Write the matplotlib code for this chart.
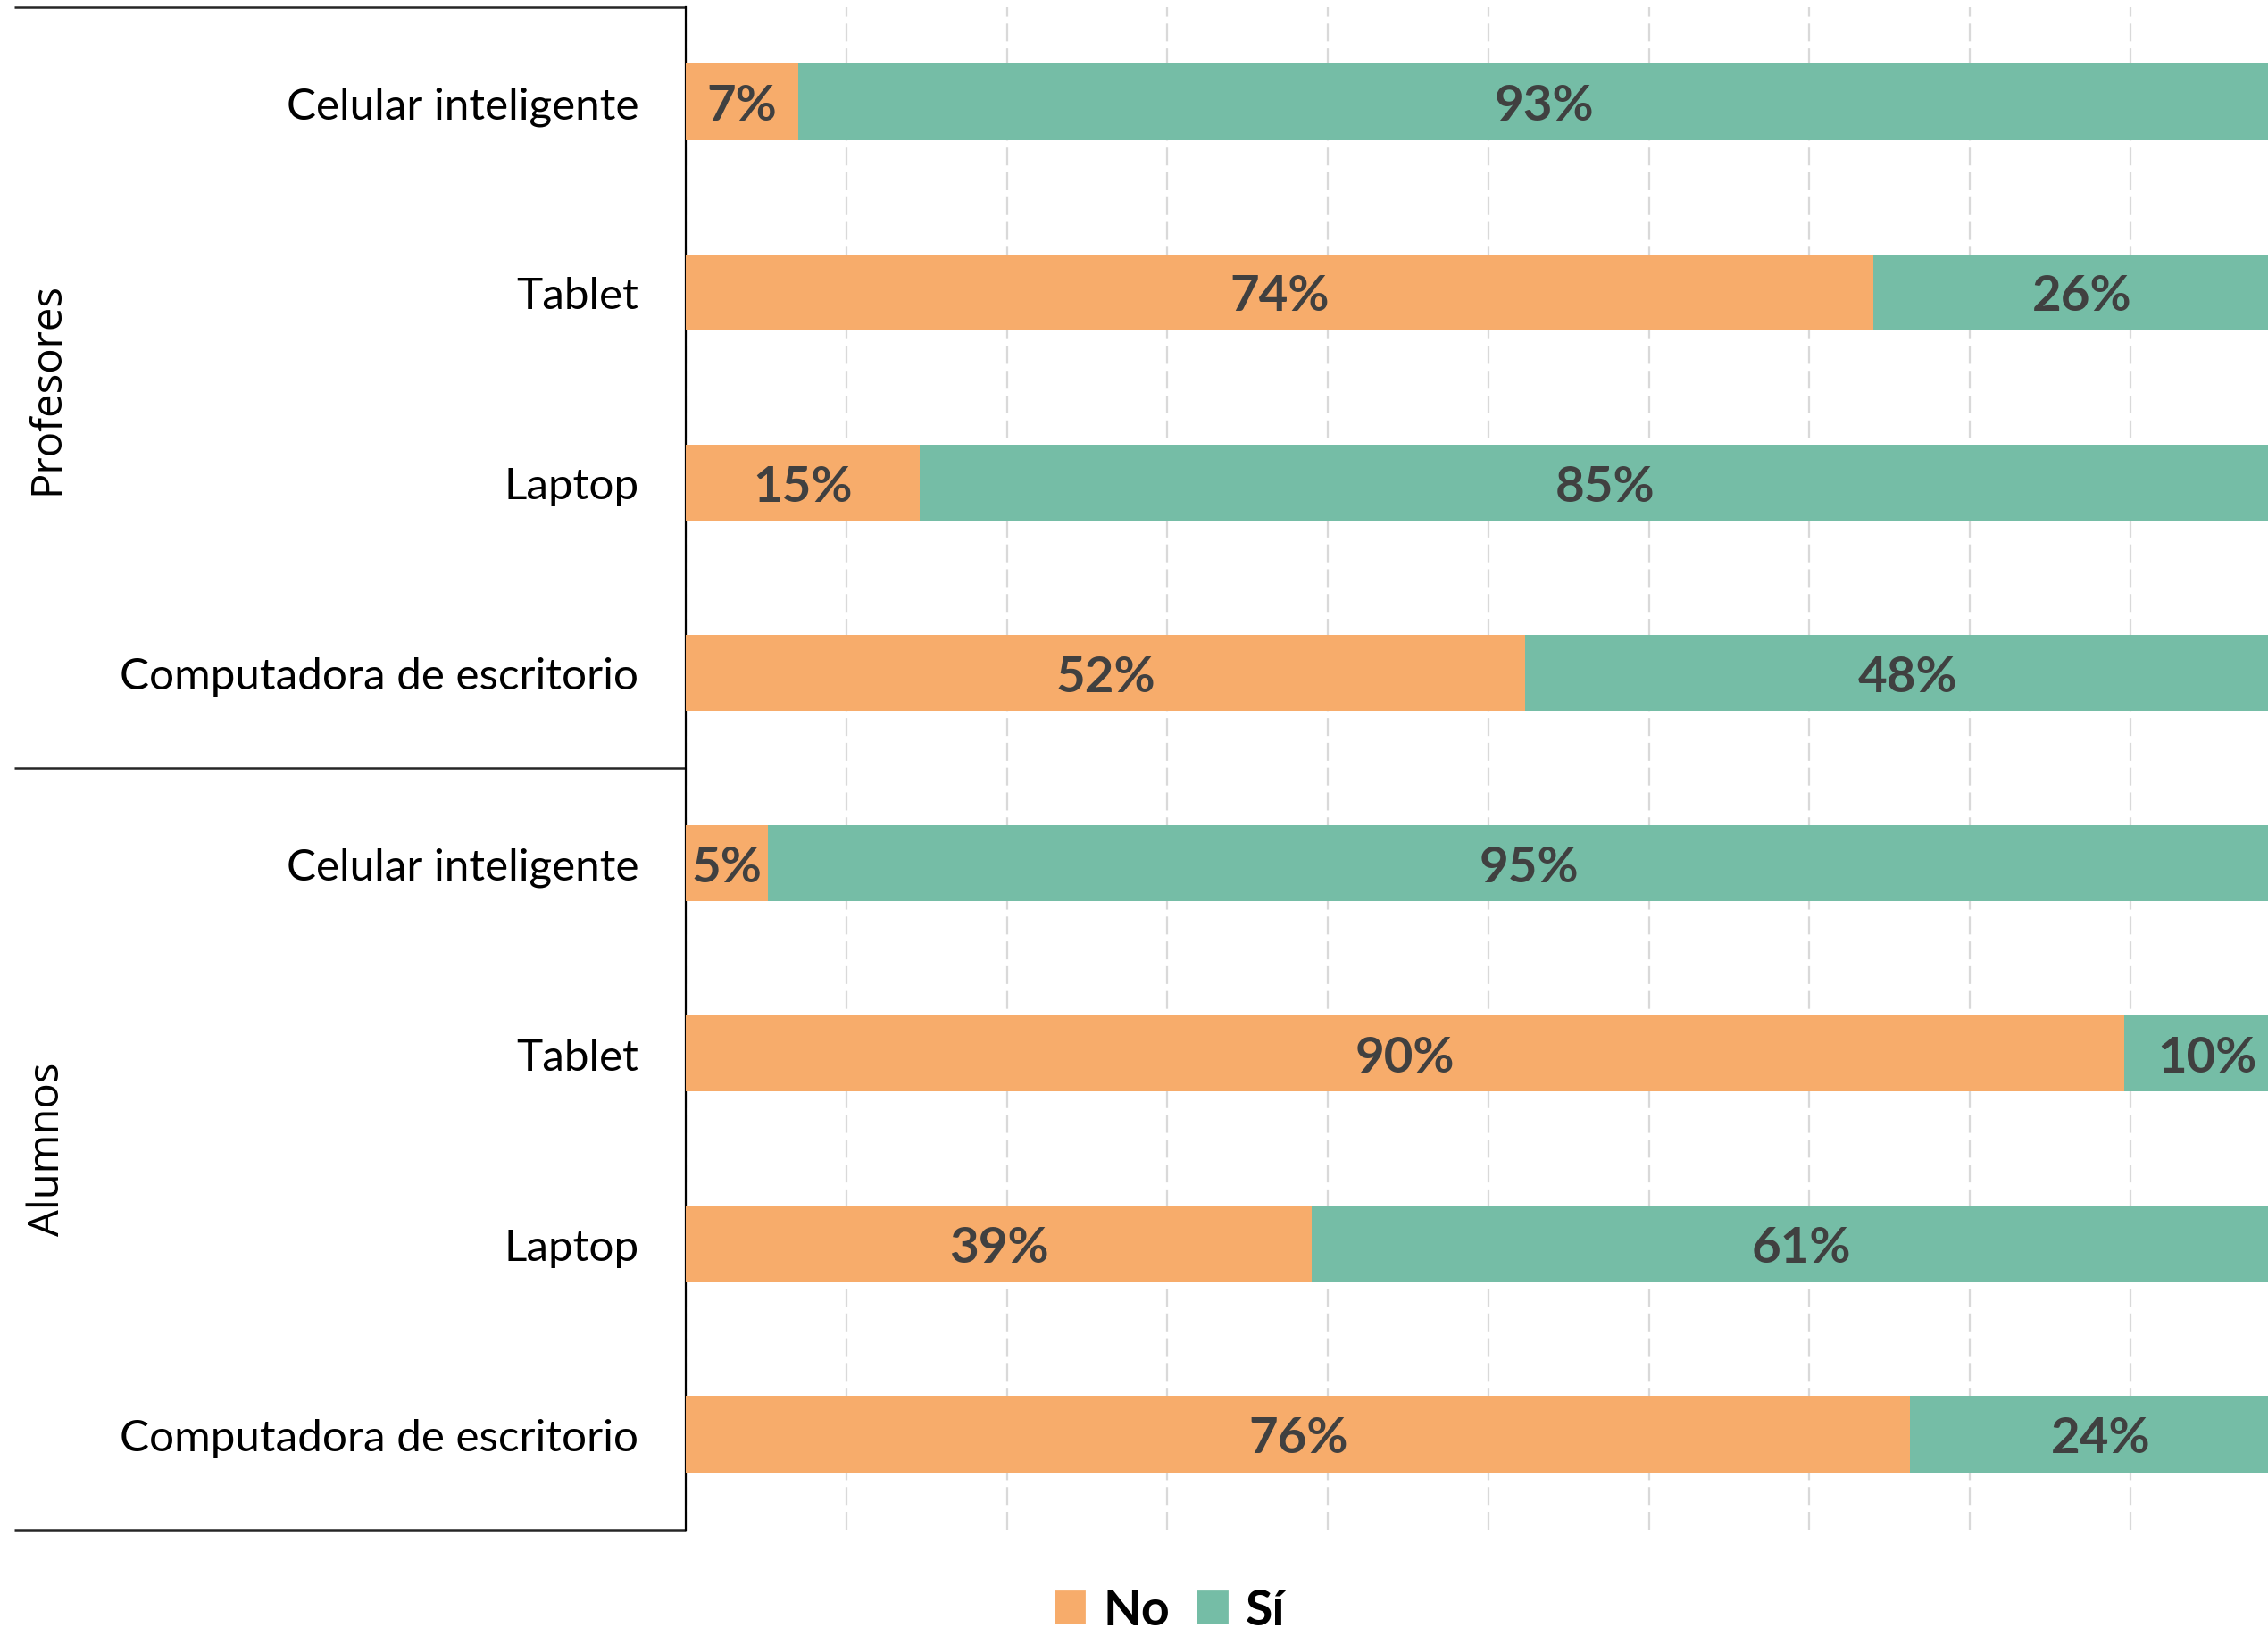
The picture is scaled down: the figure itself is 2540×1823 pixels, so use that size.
import numpy as np
import matplotlib
matplotlib.use("Agg")
import matplotlib.pyplot as plt
import matplotlib.transforms as mtransforms
from matplotlib.patches import Patch

# ---------------- data ----------------
groups = ["Profesores", "Alumnos"]
devices = ["Celular inteligente", "Tablet", "Laptop", "Computadora de escritorio"]
profesores_no = [7.0, 74.0, 14.6, 52.3]
profesores_si = [93.0, 26.0, 85.4, 47.7]
alumnos_no = [5.1, 89.6, 39.0, 76.3]
alumnos_si = [94.9, 10.4, 61.0, 23.7]
series_names = ["No", "Sí"]

# ---------------- style ----------------
ORANGE = "#F7AC6B"
GREEN = "#75BDA6"
LABEL_COLOR = "#404040"
plt.rcParams["font.family"] = ["Lato", "DejaVu Sans"]

W, H, DPI = 2540, 1824, 200
fig = plt.figure(figsize=(W / DPI, H / DPI), dpi=DPI)
ax_left = 768 / W
ax_right = 2565.5 / W
ax_bottom = 1 - 1713.5 / H
ax_top = 1 - 8.5 / H
ax = fig.add_axes([ax_left, ax_bottom, ax_right - ax_left, ax_top - ax_bottom])

labels = devices + devices
no_vals = np.array(profesores_no + alumnos_no) / 100.0
si_vals = np.array(profesores_si + alumnos_si) / 100.0
y = np.arange(len(labels))
bar_h = 0.4

ax.set_axisbelow(True)
b_no = ax.barh(y, no_vals, height=bar_h, color=ORANGE, label=series_names[0], zorder=3)
b_si = ax.barh(y, si_vals, left=no_vals, height=bar_h, color=GREEN, label=series_names[1], zorder=3)

LBL_SIZE = 20.3
for vals, lefts in [(no_vals, np.zeros_like(no_vals)), (si_vals, no_vals)]:
    for yi, v, l in zip(y, vals, lefts):
        ax.annotate(f"{round(v * 100):d}%", xy=(l + v / 2, yi),
                    xytext=(0, -0.36 * LBL_SIZE), textcoords="offset points",
                    ha="center", va="baseline",
                    fontsize=LBL_SIZE, fontweight="bold", color=LABEL_COLOR, zorder=4)

ax.set_xlim(0, 1)
ax.set_ylim(len(labels) - 0.5, -0.5)
ax.set_xticks(np.arange(0, 1.001, 0.1))
ax.set_xticklabels([])
ax.tick_params(axis="x", length=0)
ax.grid(axis="x", color="#D9D9D9", linestyle=(0, (9, 3.5)), linewidth=0.8, zorder=0)
ax.set_yticks(y)
ax.set_yticklabels(labels, fontsize=17.8, color="black")
ax.tick_params(axis="y", length=0, pad=19)

for s in ["top", "right", "bottom"]:
    ax.spines[s].set_visible(False)
ax.spines["left"].set_color("black")
ax.spines["left"].set_linewidth(0.8)

# group separators
trans = mtransforms.blended_transform_factory(ax.transAxes, ax.transData)
x0 = (16 - 768) / (2565.5 - 768)
n = len(devices)
for yy in [-0.5, n - 0.5, 2 * n - 0.5]:
    ax.plot([x0, 0], [yy, yy], transform=trans, color="#262626", linewidth=0.9,
            clip_on=False, solid_capstyle="butt")

# group labels
tfig = mtransforms.blended_transform_factory(fig.transFigure, ax.transData)
for gi, g in enumerate(groups):
    ax.text(53 / W, gi * n + (n - 1) / 2, g, transform=tfig, rotation=90,
            ha="center", va="center", fontsize=17, family=["Open Sans", "DejaVu Sans"])

leg = fig.legend(handles=[Patch(color=ORANGE, label=series_names[0]),
                          Patch(color=GREEN, label=series_names[1])],
                 loc="center", bbox_to_anchor=(0.516, 0.011), ncol=2, frameon=False,
                 handlelength=0.58, handleheight=0.58, handletextpad=0.38,
                 columnspacing=0.56, borderpad=0, borderaxespad=0,
                 prop={"size": 20, "weight": "bold"})

fig.savefig("out.png", dpi=DPI)
